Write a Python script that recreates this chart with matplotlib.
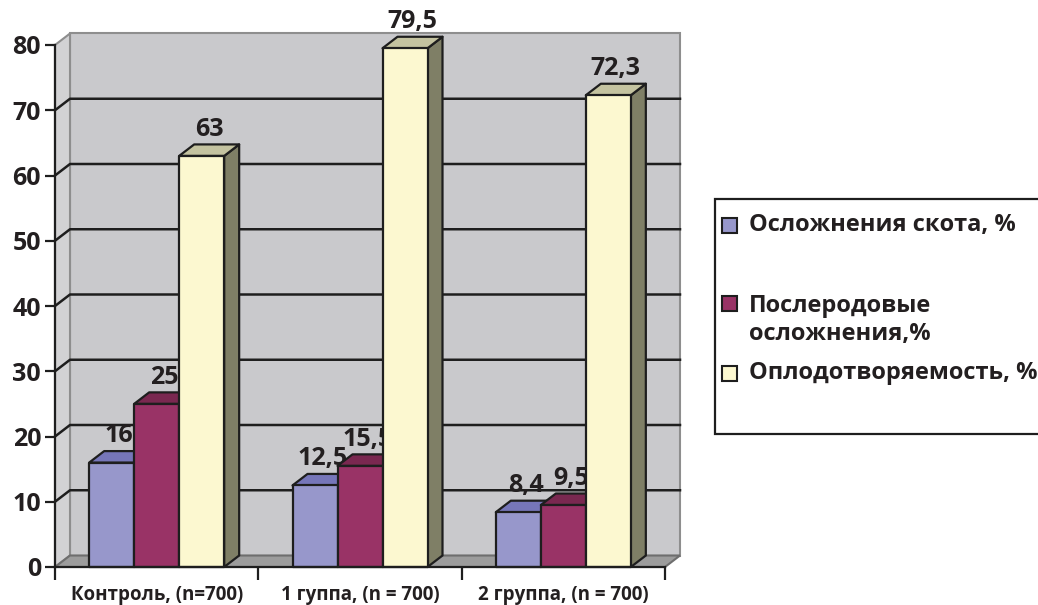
import matplotlib
matplotlib.use('Agg')
import matplotlib.pyplot as plt
from matplotlib.patches import Polygon, Rectangle

plt.rcParams['font.family'] = ['Open Sans', 'DejaVu Sans']
plt.rcParams['font.weight'] = 'bold'

# data
categories = ['Контроль, (n=700)', '1 гуппа, (n = 700)', '2 группа, (n = 700)']
series_names = ['Осложнения скота, %', 'Послеродовые\nосложнения,%', 'Оплодотворяемость, %']
complications = [16, 12.5, 8.4]
postpartum = [25, 15.5, 9.5]
fertility = [63, 79.5, 72.3]
y_ticks = [0, 10, 20, 30, 40, 50, 60, 70, 80]

series = [complications, postpartum, fertility]
front_colors = ['#9797cb', '#993366', '#fcf8d0']
top_colors = ['#7676b9', '#7a2850', '#c4c3a0']
side_colors = ['#5f5f99', '#6a2246', '#7f7f66']
text_color = '#231f20'

W, H = 1038, 605
fig = plt.figure(figsize=(W / 100, H / 100), dpi=100)
ax_l, ax_b, ax_w, ax_h = 55, 567, 610, 522  # pixels
ax = fig.add_axes([ax_l / W, (H - ax_b) / H, ax_w / W, ax_h / H])
ax.set_facecolor('none')
ax.set_xlim(-0.5, 2.5)
ax.set_ylim(0, 80)

# 3d depth offsets converted to data units
dx = 15 / ax_w * 3
dy = 11.5 / ax_h * 80
bw = 45 / (ax_w / 3)

# walls and floor
x0, x1 = -0.5, 2.5
ax.add_patch(Polygon([(x0 + dx, dy), (x1 + dx, dy), (x1 + dx, 80 + dy), (x0 + dx, 80 + dy)],
                     closed=True, facecolor='#c9c9cc', edgecolor='#8e8e8e', lw=1.5,
                     clip_on=False, zorder=0))
ax.add_patch(Polygon([(x0, 0), (x0 + dx, dy), (x0 + dx, 80 + dy), (x0, 80)],
                     closed=True, facecolor='#d2d2d4', edgecolor='#8e8e8e', lw=1.5,
                     clip_on=False, zorder=0))
ax.add_patch(Polygon([(x0, 0), (x1, 0), (x1 + dx, dy), (x0 + dx, dy)],
                     closed=True, facecolor='#9c9c9c', edgecolor='#6e6e6e', lw=1.5,
                     clip_on=False, zorder=0.5))
for v in y_ticks[1:-1]:
    ax.plot([x0, x0 + dx, x1 + dx], [v, v + dy, v + dy], color='#1e1e1e', lw=1.8,
            clip_on=False, zorder=1)

# bars
for g in range(len(categories)):
    for s, vals in enumerate(series):
        v = vals[g]
        left = g - 1.5 * bw + s * bw
        z = 2 + g * 10 + s * 2
        ec = dict(edgecolor='#1e1e1e', lw=1.6, joinstyle='round', clip_on=False, zorder=z)
        ax.add_patch(Polygon([(left + bw, 0), (left + bw + dx, dy), (left + bw + dx, v + dy),
                              (left + bw, v)], closed=True, facecolor=side_colors[s], **ec))
        ax.add_patch(Polygon([(left, v), (left + bw, v), (left + bw + dx, v + dy),
                              (left + dx, v + dy)], closed=True, facecolor=top_colors[s], **ec))
        ax.add_patch(Rectangle((left, 0), bw, v, facecolor=front_colors[s], **ec))
        label = f'{v:g}'.replace('.', ',')
        ax.text(left + bw / 2 + dx / 2, v + dy + 0.4, label, ha='center', va='bottom',
                fontsize=18, fontweight='bold', color=text_color, zorder=z + 1)

# axes lines and ticks
for sp in ['top', 'right']:
    ax.spines[sp].set_visible(False)
for sp in ['left', 'bottom']:
    ax.spines[sp].set_color('#1e1e1e')
    ax.spines[sp].set_linewidth(1.6)
    ax.spines[sp].set_zorder(40)
ax.set_yticks(y_ticks)
ax.set_yticklabels([str(t) for t in y_ticks], fontsize=18, fontweight='bold', color=text_color)
ax.tick_params(axis='y', length=7, width=1.6, color='#1e1e1e', pad=3)
ax.set_xticks([-0.5, 0.5, 1.5, 2.5])
ax.set_xticklabels([])
ax.tick_params(axis='x', which='major', length=9, width=1.6, color='#1e1e1e')
ax.set_xticks(range(len(categories)), minor=True)
ax.set_xticklabels(categories, minor=True, fontsize=13.5, fontweight='bold', color=text_color)
ax.tick_params(axis='x', which='minor', length=0, pad=13)

# legend drawn by hand
fig.patches.append(Rectangle((715 / W, (H - 434) / H), 400 / W, 235 / H, transform=fig.transFigure,
                             facecolor='white', edgecolor='#1e1e1e', lw=1.6))
text_y = [225, 320, 373]
mark_y = [225, 303, 373]
for s, name in enumerate(series_names):
    fig.patches.append(Rectangle((722 / W, (H - mark_y[s] - 7.5) / H), 15 / W, 15 / H,
                                 transform=fig.transFigure, facecolor=front_colors[s],
                                 edgecolor='#1e1e1e', lw=1.5))
    fig.text(749 / W, (H - text_y[s]) / H, name, ha='left', va='center', fontsize=17,
             fontweight='bold', color=text_color, linespacing=1.2)

fig.savefig('out.png', dpi=100)
